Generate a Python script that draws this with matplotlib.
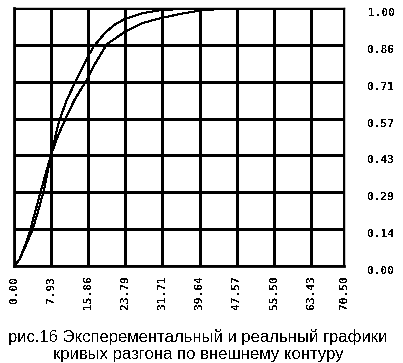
import matplotlib
matplotlib.use("Agg")
import matplotlib.pyplot as plt

# Data
x_fast = [0, 1.1, 2.1, 3.0, 4.0, 5.2, 6.4, 7.9, 9.6, 11.3, 13.4, 15.9, 17.0, 19.5,
          21.5, 23.7, 27.5, 31.2, 35.5, 40.0, 45.0, 52.6]
y_fast = [0, 0.023, 0.062, 0.10, 0.143, 0.215, 0.295, 0.43, 0.56, 0.645, 0.725,
          0.815, 0.85, 0.905, 0.935, 0.958, 0.980, 0.991, 0.996, 0.999, 1.0, 1.0]

x_slow = [0, 1.1, 2.0, 2.8, 3.5, 4.6, 5.8, 7.9, 9.5, 11.1, 12.9, 15.4, 15.86, 17.5,
          19.8, 23.7, 27.5, 31.2, 35.5, 39.7, 44.0, 48.0, 52.6]
y_slow = [0, 0.023, 0.062, 0.10, 0.143, 0.215, 0.295, 0.43, 0.51, 0.574, 0.643,
          0.717, 0.734, 0.79, 0.859, 0.908, 0.942, 0.96, 0.977, 0.99, 0.996, 0.999, 1.0]

x_ticks = [0.00, 7.93, 15.86, 23.79, 31.71, 39.64, 47.57, 55.50, 63.43, 70.50]
x_labels = ["0.00", "7.93", "15.86", "23.79", "31.71", "39.64", "47.57", "55.50",
            "63.43", "70.50"]
y_labels = ["0.00", "0.14", "0.29", "0.43", "0.57", "0.71", "0.86", "1.00"]
caption1 = "рис.16 Эксперементальный и реальный графики"
caption2 = "кривых разгона по внешнему контуру"

plt.rcParams['text.antialiased'] = False

W, H = 403, 363
fig = plt.figure(figsize=(W / 100, H / 100), dpi=100)
ax = fig.add_axes([14 / W, (H - 266) / H, (344 - 14) / W, (266 - 8) / H])

ax.plot(x_fast, y_fast, color='black', lw=0.72, antialiased=False, zorder=3)
ax.plot(x_slow, y_slow, color='black', lw=0.72, antialiased=False, zorder=3)

ax.set_xlim(0, 70.5)
ax.set_ylim(0, 1)

ax.set_xticks(x_ticks)
ax.set_xticklabels(x_labels, rotation=90, family='DejaVu Sans Mono',
                   fontweight='bold', fontsize=8, va='top')
y_pos = [i / (len(y_labels) - 1) for i in range(len(y_labels))]
ax.set_yticks(y_pos)
ax.set_yticklabels(y_labels, family='DejaVu Sans Mono', fontweight='bold',
                   fontsize=8, va='top')
ax.yaxis.tick_right()
ax.tick_params(axis='y', length=0, pad=17)
ax.tick_params(axis='x', length=0, pad=7)

ax.grid(True, color='black', lw=0.8, antialiased=False)
ax.set_axisbelow(True)
for s in ['left', 'bottom']:
    ax.spines[s].set_linewidth(2.0)
for s in ['top', 'right']:
    ax.spines[s].set_linewidth(1.0)

fig.text(198 / W, 1 - 342 / H, caption1, ha='center', va='baseline',
         family='Liberation Sans', fontsize=12)
fig.text(198 / W, 1 - 359 / H, caption2, ha='center', va='baseline',
         family='Liberation Sans', fontsize=12)

fig.savefig('out.png', dpi=100)
